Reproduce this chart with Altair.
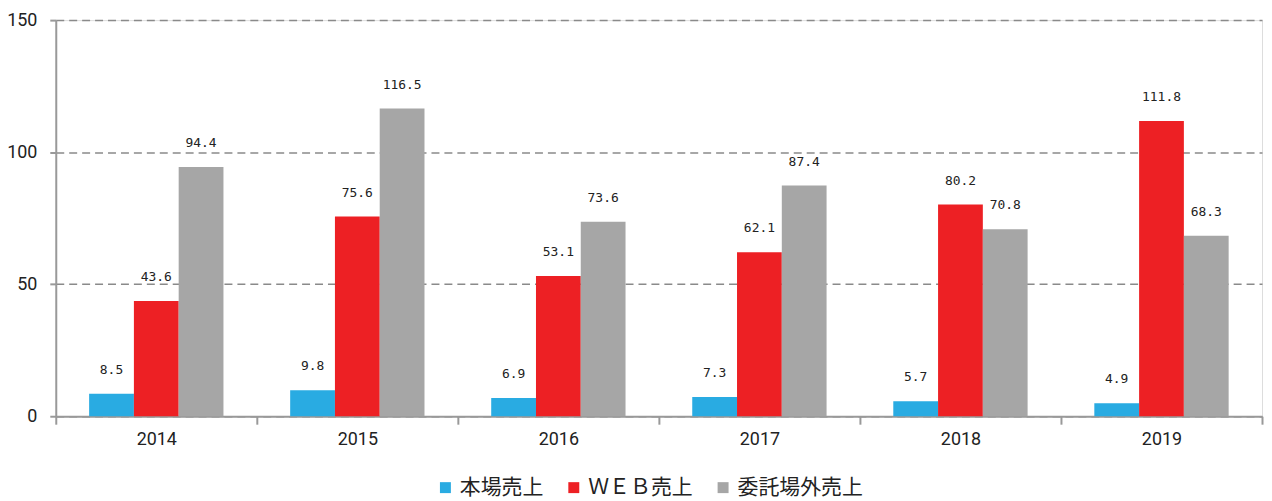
import altair as alt
import pandas as pd

years = ["2014", "2015", "2016", "2017", "2018", "2019"]
series = ["本場売上", "ＷＥＢ売上", "委託場外売上"]
honba = [8.5, 9.8, 6.9, 7.3, 5.7, 4.9]
web = [43.6, 75.6, 53.1, 62.1, 80.2, 111.8]
itaku = [94.4, 116.5, 73.6, 87.4, 70.8, 68.3]
colors = ["#29ABE2", "#ED2024", "#A6A6A6"]

rows = []
for s, vals in zip(series, [honba, web, itaku]):
    for y, v in zip(years, vals):
        rows.append({"year": y, "series": s, "value": v, "label": f"{v:.1f}"})
df = pd.DataFrame(rows)

yscale = alt.Scale(domain=[0, 150], nice=False, zero=True)

x = alt.X("year:N", title=None, sort=years,
          scale=alt.Scale(paddingInner=0, paddingOuter=0),
          axis=alt.Axis(tickBand="extent", labelAngle=0,
                        labelFont="Roboto", labelFontSize=18, labelColor="#222",
                        labelPadding=6, tickSize=8, tickWidth=2, tickColor="#999",
                        domainColor="#999", domainWidth=2, grid=False))
xo = alt.XOffset("series:N", sort=series,
                 scale=alt.Scale(paddingOuter=0.745, paddingInner=0))
y = alt.Y("value:Q", title=None, scale=yscale,
          axis=alt.Axis(values=[0, 50, 100, 150], labelFont="Roboto",
                        labelFontSize=18, labelColor="#222", labelPadding=13,
                        tickSize=6, tickWidth=2, tickColor="#999",
                        domainColor="#999", domainWidth=2,
                        grid=True, gridColor="#8a8a8a", gridDash=[8, 5],
                        gridWidth=1.5))

bars = alt.Chart(df).mark_bar().encode(
    x=x, xOffset=xo, y=y,
    color=alt.Color("series:N", sort=series,
                    scale=alt.Scale(domain=series, range=colors),
                    legend=alt.Legend(title=None, orient="none", legendX=381,
                                      legendY=459, direction="horizontal",
                                      symbolType="square", symbolSize=121,
                                      symbolStrokeWidth=0,
                                      labelFont="Noto Sans CJK JP",
                                      labelFontSize=21, labelColor="#222",
                                      columnPadding=20, labelOffset=4)),
)

text = alt.Chart(df).mark_text(dy=-24, baseline="middle", font="DejaVu Sans Mono",
                                fontSize=13, color="#222").encode(
    x=alt.X("year:N", sort=years), xOffset=alt.XOffset("series:N", sort=series),
    y=alt.Y("value:Q", scale=yscale), text="label:N")

chart = alt.layer(bars, text).properties(
    width=1212, height=398,
    autosize=alt.AutoSizeParams(type="none"),
    padding={"left": 48, "top": 11, "right": 2, "bottom": 84},
).configure_view(stroke=None).configure(background="white")

chart.save("out.html", embed_options={"renderer": "svg", "actions": False})
